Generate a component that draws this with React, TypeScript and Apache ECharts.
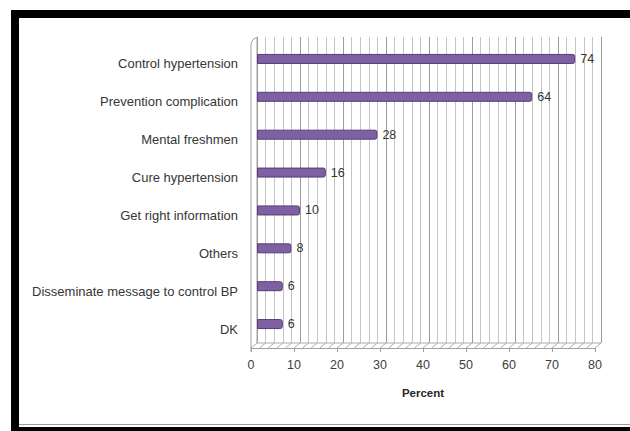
import React, { useEffect, useRef } from "react";
import * as echarts from "echarts";

// Reasons reported for controlling blood pressure (percent of respondents)
const categories = [
  "Control hypertension",
  "Prevention complication",
  "Mental freshmen",
  "Cure hypertension",
  "Get right information",
  "Others",
  "Disseminate message to control BP",
  "DK",
];
const percents = [74, 64, 28, 16, 10, 8, 6, 6];
const axisMin = 0;
const axisMax = 80;
const axisStep = 10;

// depth of the pseudo-3D floor / wall
const DEPTH_X = 6;
const DEPTH_Y = 5;

const FONT = "'Liberation Sans', Arial, sans-serif";

export default function App() {
  const ref = useRef<HTMLDivElement>(null);

  useEffect(() => {
    if (!ref.current) return;
    const chart = echarts.init(ref.current, undefined, { renderer: "svg" });

    const floorRender = (params: any, api: any) => {
      const cs = params.coordSys;
      const yb = cs.y + cs.height;
      const children: any[] = [];
      const lineStyle = { stroke: "#acacac", lineWidth: 1, fill: null };
      // floor hatching, one stroke per minor grid step
      for (let v = axisMin; v <= axisMax; v += axisStep / 5) {
        const xf = api.coord([v, 0])[0];
        children.push({
          type: "line",
          shape: { x1: xf, y1: yb, x2: xf + DEPTH_X, y2: yb - DEPTH_Y },
          style: lineStyle,
        });
      }
      // back edge of the floor
      const x0 = api.coord([axisMin, 0])[0];
      const x1 = api.coord([axisMax, 0])[0];
      children.push({
        type: "line",
        shape: { x1: x0 + DEPTH_X, y1: yb - DEPTH_Y, x2: x1 + DEPTH_X, y2: yb - DEPTH_Y },
        style: lineStyle,
      });
      // left side wall
      children.push({
        type: "polyline",
        shape: {
          points: [
            [x0, yb + 4],
            [x0, cs.y - 1],
            [x0 + 1.5, cs.y - 5],
            [x0 + DEPTH_X, cs.y - 8],
            [x0 + DEPTH_X, yb - DEPTH_Y],
          ],
        },
        style: { stroke: "#a0a0a0", lineWidth: 1, fill: null },
      });
      return { type: "group", children };
    };

    chart.setOption({
      animation: false,
      backgroundColor: "#ffffff",
      graphic: [
        { type: "rect", shape: { x: 11, y: 10, width: 619, height: 8 }, style: { fill: "#000" } },
        { type: "rect", shape: { x: 11, y: 10, width: 8, height: 421 }, style: { fill: "#000" } },
        { type: "line", shape: { x1: 19, y1: 424.5, x2: 630, y2: 424.5 }, style: { stroke: "#9a9a9a", lineWidth: 1 } },
        { type: "rect", shape: { x: 11, y: 427, width: 619, height: 4 }, style: { fill: "#000" } },
      ],
      grid: [
        // back wall
        { left: 257, right: 29, top: 37, bottom: 88 },
        // bars
        { left: 257, right: 29, top: 40, bottom: 88 },
        // front plane: axis labels
        { left: 251, right: 35, top: 45, bottom: 83 },
      ],
      xAxis: [
        {
          gridIndex: 0,
          type: "value",
          min: axisMin,
          max: axisMax,
          interval: axisStep,
          axisLine: { show: false },
          axisTick: { show: false },
          axisLabel: { show: false },
          splitLine: { show: true, lineStyle: { color: "#9c9c9c", width: 1 } },
          minorTick: { show: false, splitNumber: 5 },
          minorSplitLine: { show: true, lineStyle: { color: "#c4c4c4", width: 1 } },
        },
        {
          gridIndex: 1,
          type: "value",
          min: axisMin,
          max: axisMax,
          show: false,
        },
        {
          gridIndex: 2,
          type: "value",
          min: axisMin,
          max: axisMax,
          interval: axisStep,
          axisLine: { show: true, onZero: false, lineStyle: { color: "#a0a0a0", width: 1 } },
          axisTick: { show: true, inside: false, length: 4, lineStyle: { color: "#a0a0a0" } },
          axisLabel: { color: "#404040", fontSize: 12.5, fontFamily: FONT, margin: 10 },
          splitLine: { show: false },
          name: "Percent",
          nameLocation: "middle",
          nameGap: 39,
          nameTextStyle: { color: "#262626", fontSize: 11.5, fontWeight: "bold", fontFamily: FONT },
        },
      ],
      yAxis: [
        { gridIndex: 0, type: "category", data: categories, inverse: true, show: false },
        { gridIndex: 1, type: "category", data: categories, inverse: true, show: false },
        {
          gridIndex: 2,
          type: "category",
          data: categories,
          inverse: true,
          axisLine: { show: false },
          axisTick: { show: false },
          axisLabel: { color: "#363636", fontSize: 13, fontFamily: FONT, margin: 13 },
        },
      ],
      series: [
        {
          type: "custom",
          xAxisIndex: 2,
          yAxisIndex: 2,
          clip: false,
          silent: true,
          z: 1,
          renderItem: floorRender,
          data: [[0, 0]],
        },
        {
          type: "bar",
          xAxisIndex: 1,
          yAxisIndex: 1,
          z: 3,
          data: percents,
          barWidth: 10,
          itemStyle: {
            color: "#7f60a3",
            borderColor: "#533c7a",
            borderWidth: 1,
            borderRadius: [0, 2, 2, 0],
          },
          label: {
            show: true,
            position: "right",
            distance: 5,
            color: "#363636",
            fontSize: 12.5,
            fontFamily: FONT,
          },
        },
      ],
    });

    return () => chart.dispose();
  }, []);

  return (
    <div
      ref={ref}
      style={{ position: "absolute", left: 0, top: 0, width: 630, height: 431 }}
    />
  );
}
